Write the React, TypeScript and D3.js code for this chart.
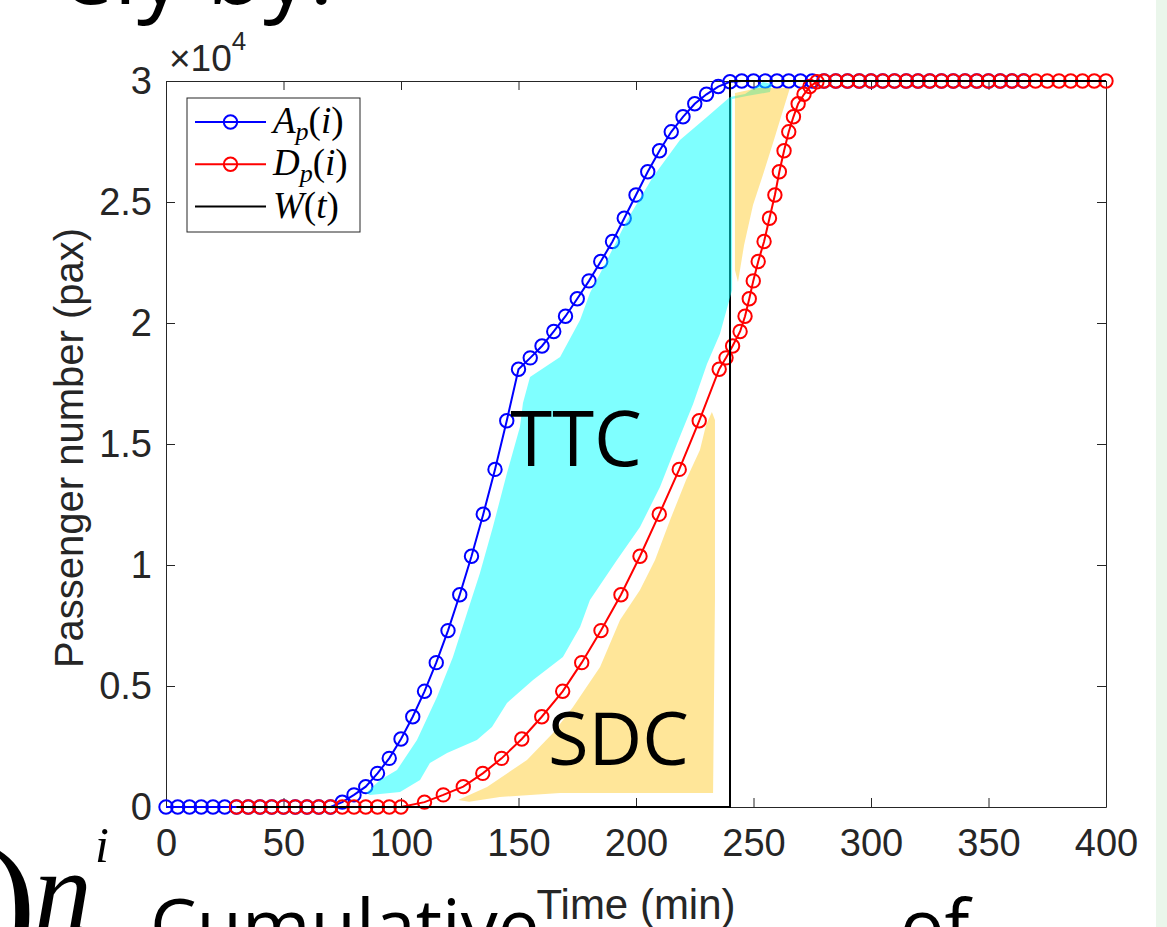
import * as d3 from "d3";
import React, { useEffect, useRef } from "react";

const W = 1167;
const H = 927;

// arrival curve A_p(i): time (min) of each group
const arrivalTimes = [
  0, 5, 10, 15, 20, 25, 30, 35, 40, 45, 50, 55, 60, 65, 70, 75, 80, 85, 90, 95,
  100, 105, 110, 115, 120, 125, 130, 135, 140, 145, 150, 155, 160, 165, 170,
  175, 180, 185, 190, 195, 200, 205, 210, 215, 220, 225, 230, 235, 240, 245,
  250, 255, 260, 265, 270, 275, 280, 285, 290, 295, 300, 305, 310, 315, 320,
  325, 330, 335, 340, 345, 350, 355, 360, 365,
];

// cumulative passengers of group i (same for both curves)
const paxCum = [
  0, 0, 0, 0, 0, 0, 0, 0, 0, 0, 0, 0, 0, 0, 0, 200, 500, 840, 1390, 2010, 2810,
  3730, 4780, 5965, 7290, 8770, 10360, 12100, 13950, 15960, 18090, 18560,
  19050, 19650, 20280, 21000, 21740, 22540, 23370, 24330, 25290, 26250, 27120,
  27900, 28520, 29060, 29450, 29770, 29970, 30000, 30000, 30000, 30000, 30000,
  30000, 30000, 30000, 30000, 30000, 30000, 30000, 30000, 30000, 30000, 30000,
  30000, 30000, 30000, 30000, 30000, 30000, 30000, 30000, 30000,
];

// departure curve D_p(i): time (min) of each group
const departTimes = [
  30, 35, 40, 45, 50, 55, 60, 65, 70, 75, 80, 85, 90, 95, 100, 110, 118, 126.5,
  134.8, 142.8, 151.4, 159.9, 168.8, 176.9, 185.1, 193.6, 201.7, 209.9, 218.4,
  226.9, 235.4, 238.3, 241.1, 244.3, 246.4, 248.2, 249.9, 252, 254.5, 256.8,
  259.1, 261, 263, 265, 267, 269, 271.5, 274, 277, 280, 285, 290, 295, 300, 305,
  310, 315, 320, 325, 330, 335, 340, 345, 350, 355, 360, 365, 370, 375, 380,
  385, 390, 395, 400,
];

// W(t)
const wTimes = [30, 240, 240, 400];
const wPax = [0, 0, 30000, 30000];

// hand drawn areas [time, pax]
const ttcOutline = [
  [85.1, 579], [91.1, 1116], [98.3, 1529], [106.8, 2769], [115.3, 4545],
  [122.1, 6198], [128.1, 8017], [133.6, 9669], [139.1, 11570], [145.1, 13800],
  [150.6, 15700], [151.9, 16694], [154.9, 17769], [167.7, 18595],
  [176.2, 20124], [180.4, 21240], [187.7, 22603], [196.2, 24256],
  [207.2, 26033], [218.7, 27562], [230.2, 28512], [240, 29339], [246.4, 29463],
  [254, 29959], [257.9, 29876], [257, 29545], [247.2, 29380], [240.9, 29260],
  [240.9, 21364], [235.7, 19545], [230.2, 18306], [224.3, 16653], [217.4, 15000],
  [210.2, 13223], [201.7, 11570], [191.9, 10207], [180.4, 8554], [176.2, 7438],
  [168.9, 6198], [156.2, 5248], [145.1, 4298], [138.7, 3306], [132.3, 2769],
  [119.6, 2231], [112.3, 1818], [108.1, 1116], [99.6, 620], [86.8, 496],
];

const sdcLowOutline = [
  [124.3, 289], [136.6, 826], [153.6, 1942], [164.7, 3058], [173.2, 4132],
  [184.7, 5785], [193.2, 7727], [201.7, 8967], [208.1, 10207], [214.5, 11860],
  [221.3, 13512], [227.2, 14752], [229.8, 15785], [232.3, 16322],
  [233.6, 15992], [233.6, 8554], [232.8, 579], [198.7, 579], [167.7, 579],
  [142.1, 413], [129, 220],
];

const sdcHighOutline = [
  [242.1, 29504], [251.9, 29711], [265.5, 29711], [262.6, 28802],
  [258.7, 27562], [254.0, 26116], [249.8, 24876], [246.0, 23223],
  [243.4, 21694], [242.1, 22190],
];

const xTicks = [0, 50, 100, 150, 200, 250, 300, 350, 400];
const yTicks = [0, 5000, 10000, 15000, 20000, 25000, 30000];
const yTickLabels = ["0", "0.5", "1", "1.5", "2", "2.5", "3"];

const legendItems = [
  { name: "A", sub: "p", arg: "i", color: "#0000ff", marker: true },
  { name: "D", sub: "p", arg: "i", color: "#ff0000", marker: true },
  { name: "W", sub: "", arg: "t", color: "#000000", marker: false },
];

const axisColor = "#262626";
const sansFont = "'Liberation Sans', Arial, sans-serif";
const serifFont = "'Liberation Serif', 'Times New Roman', serif";
const slideFont = "'Open Sans', sans-serif";

const App = () => {
  const chartRef = useRef(null);

  useEffect(() => {
    if (chartRef.current) {
      drawChart();
    }
  }, []);

  const drawChart = () => {
    const svg = d3.select(chartRef.current);
    svg.selectAll("*").remove();

    svg.append("rect").attr("width", W).attr("height", H).attr("fill", "#fff");
    // slide strip on the right
    svg.append("rect").attr("x", 1156).attr("y", 0).attr("width", 11).attr("height", H).attr("fill", "#eaf6eb");

    // slide text fragments around the figure
    svg.append("text").attr("x", 62).attr("y", 4).attr("font-family", slideFont)
      .attr("font-size", 92).attr("fill", "#000").text("ely by:");
    svg.append("text").attr("x", -14).attr("y", 950).attr("font-family", serifFont)
      .attr("font-size", 150).attr("fill", "#000").text(")");
    svg.append("text").attr("x", 34).attr("y", 930).attr("font-family", serifFont)
      .attr("font-style", "italic").attr("font-size", 116).attr("fill", "#000").text("n");
    svg.append("text").attr("x", 95).attr("y", 862).attr("font-family", serifFont)
      .attr("font-style", "italic").attr("font-size", 50).attr("fill", "#000").text("i");
    svg.append("text").attr("x", 150).attr("y", 952).attr("font-family", slideFont)
      .attr("font-size", 74).attr("fill", "#000").text("Cumulative");
    svg.append("text").attr("x", 900).attr("y", 952).attr("font-family", slideFont)
      .attr("font-size", 74).attr("fill", "#000").text("of");

    const x = d3.scaleLinear().domain([0, 400]).range([166, 1106]);
    const y = d3.scaleLinear().domain([0, 30000]).range([807, 81]);

    // axes area
    svg.append("rect").attr("x", x(0)).attr("y", y(30000))
      .attr("width", x(400) - x(0)).attr("height", y(0) - y(30000)).attr("fill", "#fff");

    const styleAxis = (g) => {
      g.selectAll(".domain").attr("stroke", axisColor).attr("stroke-width", 1).attr("fill", "none");
      g.selectAll(".tick line").attr("stroke", axisColor).attr("stroke-width", 1);
      g.selectAll(".tick text").attr("fill", axisColor).attr("font-family", sansFont).attr("font-size", 38);
    };

    svg.append("g").attr("transform", `translate(0,${y(0)})`)
      .call(d3.axisBottom(x).tickValues(xTicks).tickSizeInner(-9).tickSizeOuter(0).tickPadding(22).tickFormat(d3.format("d")))
      .call(styleAxis);
    svg.append("g").attr("transform", `translate(0,${y(30000)})`)
      .call(d3.axisTop(x).tickValues(xTicks).tickSizeInner(-9).tickSizeOuter(0).tickFormat(() => ""))
      .call(styleAxis);
    svg.append("g").attr("transform", `translate(${x(0)},0)`)
      .call(d3.axisLeft(y).tickValues(yTicks).tickSizeInner(-9).tickSizeOuter(0).tickPadding(14)
        .tickFormat((d, i) => yTickLabels[i]))
      .call(styleAxis);
    svg.append("g").attr("transform", `translate(${x(400)},0)`)
      .call(d3.axisRight(y).tickValues(yTicks).tickSizeInner(-9).tickSizeOuter(0).tickFormat(() => ""))
      .call(styleAxis);

    // exponent
    const expo = svg.append("text").attr("x", x(0) + 3).attr("y", 71)
      .attr("font-family", sansFont).attr("fill", axisColor).attr("font-size", 37);
    expo.append("tspan").text("\u00d710");
    expo.append("tspan").attr("font-size", 26).attr("dy", -21).text("4");

    // axis titles
    svg.append("text").attr("x", (x(0) + x(400)) / 2).attr("y", 919)
      .attr("text-anchor", "middle").attr("font-family", sansFont).attr("font-size", 42)
      .attr("fill", axisColor).text("Time (min)");
    svg.append("text")
      .attr("transform", `translate(83,${(y(0) + y(30000)) / 2 + 4}) rotate(-90)`)
      .attr("text-anchor", "middle").attr("font-family", sansFont).attr("font-size", 40)
      .attr("fill", axisColor).text("Passenger number (pax)");

    const drawSeries = (times, color) => {
      const pts = times.map((t, i) => [t, paxCum[i]]);
      svg.append("path")
        .attr("d", d3.line().x((d) => x(d[0])).y((d) => y(d[1]))(pts))
        .attr("fill", "none").attr("stroke", color).attr("stroke-width", 2);
      svg.append("g").selectAll("circle").data(pts).enter().append("circle")
        .attr("cx", (d) => x(d[0])).attr("cy", (d) => y(d[1])).attr("r", 6.7)
        .attr("fill", "none").attr("stroke", color).attr("stroke-width", 2);
    };
    drawSeries(arrivalTimes, "#0000ff");
    drawSeries(departTimes, "#ff0000");

    svg.append("path")
      .attr("d", d3.line().x((d) => x(d[0])).y((d) => y(d[1]))(wTimes.map((t, i) => [t, wPax[i]])))
      .attr("fill", "none").attr("stroke", "#000").attr("stroke-width", 2);

    // shaded areas (drawn over the curves, semi transparent)
    const area = d3.line().x((d) => x(d[0])).y((d) => y(d[1])).curve(d3.curveLinearClosed);
    svg.append("path").attr("d", area(ttcOutline)).attr("fill", "#00ffff").attr("fill-opacity", 0.5);
    svg.append("path").attr("d", area(sdcLowOutline)).attr("fill", "#ffc000").attr("fill-opacity", 0.4);
    svg.append("path").attr("d", area(sdcHighOutline)).attr("fill", "#ffc000").attr("fill-opacity", 0.4);

    svg.append("text").attr("x", x(146.5)).attr("y", y(14100))
      .attr("font-family", slideFont).attr("font-size", 76).attr("fill", "#000").text("TTC");
    svg.append("text").attr("x", x(162.5)).attr("y", y(1750))
      .attr("font-family", slideFont).attr("font-size", 74).attr("fill", "#000").text("SDC");

    // legend
    const lg = svg.append("g").attr("transform", "translate(187,98)");
    lg.append("rect").attr("width", 173).attr("height", 134)
      .attr("fill", "#fff").attr("stroke", axisColor).attr("stroke-width", 1);
    legendItems.forEach((d, i) => {
      const cy = 24 + i * 42.3;
      lg.append("line").attr("x1", 8).attr("x2", 79).attr("y1", cy).attr("y2", cy)
        .attr("stroke", d.color).attr("stroke-width", 2);
      if (d.marker) {
        lg.append("circle").attr("cx", 43.5).attr("cy", cy).attr("r", 6.7)
          .attr("fill", "none").attr("stroke", d.color).attr("stroke-width", 2);
      }
      const t = lg.append("text").attr("x", 86).attr("y", cy + 11)
        .attr("font-family", serifFont).attr("font-size", 37).attr("fill", "#000");
      t.append("tspan").attr("font-style", "italic").text(d.name);
      if (d.sub) {
        t.append("tspan").attr("font-style", "italic").attr("font-size", 26).attr("dy", 7).text(d.sub);
        t.append("tspan").attr("dy", -7).text("(");
      } else {
        t.append("tspan").text("(");
      }
      t.append("tspan").attr("font-style", "italic").text(d.arg);
      t.append("tspan").text(")");
    });
  };

  return <svg ref={chartRef} width={W} height={H} style={{ position: "absolute", left: 0, top: 0 }} />;
};

export default App;
